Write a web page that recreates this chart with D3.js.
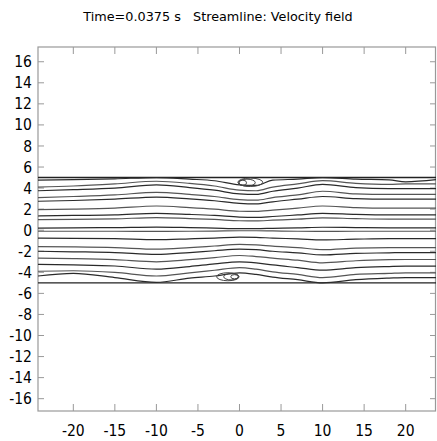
<!DOCTYPE html>
<html>
<head>
<meta charset="utf-8">
<script src="https://cdn.jsdelivr.net/npm/d3@7"></script>
<style>
  body { margin: 0; background: #fff; }
  text { font-family: "DejaVu Sans Condensed", "DejaVu Sans", sans-serif; }
</style>
</head>
<body>
<div id="plot_area"></div>
<script>
// tick values
var xTicks = [-20, -15, -10, -5, 0, 5, 10, 15, 20];
var yTicks = [16, 14, 12, 10, 8, 6, 4, 2, 0, -2, -4, -6, -8, -10, -12, -14, -16];

// channel walls
var walls = [5, -5];

// x positions where the streamlines are sampled
var knots = [-24.25, -20, -15, -10, -6, -3, 0, 2, 4, 7, 10, 14, 18, 20, 23.65];

// y of each streamline at the knots (upper half, then lower half)
var streamUpper = [
  [4.75, 4.8, 4.88, 5.0, 4.85, 4.7, 4.3, 4.25, 4.75, 4.85, 5.0, 4.85, 4.78, 4.6, 4.8],
  [4.1, 4.2, 4.4, 4.65, 4.45, 4.2, 3.8, 3.75, 4.1, 4.4, 4.7, 4.45, 4.35, 4.4, 4.4],
  [3.75, 3.85, 4.0, 4.3, 4.05, 3.8, 3.45, 3.4, 3.7, 4.0, 4.35, 4.05, 3.95, 3.95, 3.95],
  [3.1, 3.2, 3.35, 3.6, 3.4, 3.2, 2.9, 2.85, 3.1, 3.35, 3.7, 3.45, 3.4, 3.4, 3.4],
  [2.75, 2.82, 2.95, 3.15, 2.98, 2.8, 2.55, 2.5, 2.7, 2.95, 3.2, 3.0, 2.95, 2.95, 2.95],
  [1.95, 2.0, 2.1, 2.3, 2.15, 2.0, 1.8, 1.78, 1.9, 2.1, 2.3, 2.15, 2.1, 2.1, 2.1],
  [1.35, 1.4, 1.45, 1.6, 1.5, 1.4, 1.25, 1.22, 1.3, 1.45, 1.6, 1.5, 1.45, 1.45, 1.45],
  [1.0, 1.03, 1.08, 1.2, 1.1, 1.02, 0.9, 0.88, 0.95, 1.05, 1.18, 1.1, 1.05, 1.05, 1.05],
  [0.2, 0.22, 0.25, 0.3, 0.25, 0.2, 0.15, 0.15, 0.18, 0.22, 0.28, 0.25, 0.22, 0.22, 0.22],
  [-0.1, -0.1, -0.1, -0.12, -0.1, -0.08, -0.05, -0.05, -0.07, -0.1, -0.12, -0.1, -0.1, -0.1, -0.1]
];
var streamLower = [
  [-0.75, -0.77, -0.8, -0.9, -0.82, -0.75, -0.65, -0.68, -0.75, -0.82, -0.92, -0.85, -0.8, -0.8, -0.8],
  [-1.55, -1.58, -1.65, -1.8, -1.65, -1.5, -1.35, -1.4, -1.52, -1.65, -1.85, -1.7, -1.65, -1.65, -1.65],
  [-2.0, -2.05, -2.12, -2.3, -2.12, -1.95, -1.8, -1.85, -2.0, -2.15, -2.35, -2.2, -2.15, -2.12, -2.12],
  [-2.65, -2.7, -2.8, -3.0, -2.8, -2.6, -2.4, -2.5, -2.65, -2.85, -3.1, -2.9, -2.8, -2.78, -2.78],
  [-3.25, -3.3, -3.4, -3.7, -3.45, -3.2, -3.0, -3.1, -3.3, -3.55, -3.8, -3.55, -3.45, -3.42, -3.42],
  [-3.9, -3.85, -4.0, -4.35, -4.05, -3.8, -3.55, -3.7, -3.95, -4.2, -4.5, -4.2, -4.1, -4.05, -4.05],
  [-4.35, -4.1, -4.5, -4.95, -4.55, -4.35, -4.05, -4.2, -4.45, -4.7, -5.0, -4.7, -4.55, -4.5, -4.5]
];

// recirculation loops near the walls: centre x, centre y, half width, half height
var vortexTopX = [0.4, 0.9, 1.3];
var vortexTopY = [4.5, 4.52, 4.55];
var vortexTopRx = [0.45, 1.0, 1.5];
var vortexTopRy = [0.25, 0.33, 0.4];
var vortexBotX = [-0.6, -1.0, -1.4];
var vortexBotY = [-4.42, -4.42, -4.42];
var vortexBotRx = [0.45, 0.9, 1.35];
var vortexBotRy = [0.2, 0.3, 0.38];

var W = 437, H = 441;
var margin = {top: 47, right: 1, bottom: 30, left: 38};

var svg = d3.select('#plot_area')
  .append("svg")
  .attr("width", W)
  .attr("height", H);

var x = d3.scaleLinear().domain([-24.25, 23.65]).range([margin.left, W - margin.right]);
var y = d3.scaleLinear().domain([-17.17, 17.4]).range([H - margin.bottom, margin.top]);

// title
svg.append("text")
  .attr("x", 218)
  .attr("y", 21)
  .attr("text-anchor", "middle")
  .style("font-family", "'DejaVu Sans', sans-serif")
  .style("font-size", "12.8px")
  .attr("fill", "#000")
  .attr("xml:space", "preserve")
  .text("Time=0.0375 s   Streamline: Velocity field");

var axisColor = "#999";
var x0 = x.range()[0], x1 = x.range()[1], y0 = y.range()[0], y1 = y.range()[1];

// frame
svg.append("rect")
  .attr("x", x0).attr("y", y1)
  .attr("width", x1 - x0 - 0.5).attr("height", y0 - y1)
  .attr("fill", "none").attr("stroke", axisColor).attr("stroke-width", 1.2);

// ticks (all inward)
var tk = svg.append("g").attr("stroke", axisColor).attr("stroke-width", 1);
xTicks.forEach(function(v) {
  tk.append("line").attr("x1", x(v)).attr("x2", x(v)).attr("y1", y0).attr("y2", y0 - 7);
  tk.append("line").attr("x1", x(v)).attr("x2", x(v)).attr("y1", y1).attr("y2", y1 + 7);
});
yTicks.forEach(function(v) {
  tk.append("line").attr("x1", x0).attr("x2", x0 + 6).attr("y1", y(v)).attr("y2", y(v));
  tk.append("line").attr("x1", x1).attr("x2", x1 - 6).attr("y1", y(v)).attr("y2", y(v));
});

// tick labels
svg.append("g").selectAll("text").data(xTicks).enter().append("text")
  .attr("x", function(d) { return x(d); })
  .attr("y", 436)
  .attr("text-anchor", "middle")
  .style("font-size", "15.5px")
  .attr("fill", "#000")
  .text(function(d) { return d; });

svg.append("g").selectAll("text").data(yTicks).enter().append("text")
  .attr("x", 32)
  .attr("y", function(d) { return y(d); })
  .attr("dy", "0.36em")
  .attr("text-anchor", "end")
  .style("font-size", "15.5px")
  .attr("fill", "#000")
  .text(function(d) { return d; });

// streamlines
var g = svg.append("g").attr("fill", "none");

walls.forEach(function(w) {
  g.append("line")
    .attr("x1", x0).attr("x2", x1)
    .attr("y1", y(w)).attr("y2", y(w))
    .attr("stroke", "#222").attr("stroke-width", 1.4);
});

var line = d3.line()
  .x(function(d, i) { return x(knots[i]); })
  .y(function(d) { return y(d); })
  .curve(d3.curveMonotoneX);

streamUpper.concat(streamLower).forEach(function(s, i) {
  g.append("path")
    .attr("d", line(s))
    .attr("stroke", i % 2 ? "#555" : "#2a2a2a")
    .attr("stroke-width", 1.2);
});

function loops(cx, cy, rx, ry) {
  cx.forEach(function(c, i) {
    g.append("ellipse")
      .attr("cx", x(c)).attr("cy", y(cy[i]))
      .attr("rx", x(c + rx[i]) - x(c))
      .attr("ry", y(cy[i] - ry[i]) - y(cy[i]))
      .attr("stroke", "#444").attr("stroke-width", 1);
  });
}
loops(vortexTopX, vortexTopY, vortexTopRx, vortexTopRy);
loops(vortexBotX, vortexBotY, vortexBotRx, vortexBotRy);
</script>
</body>
</html>
